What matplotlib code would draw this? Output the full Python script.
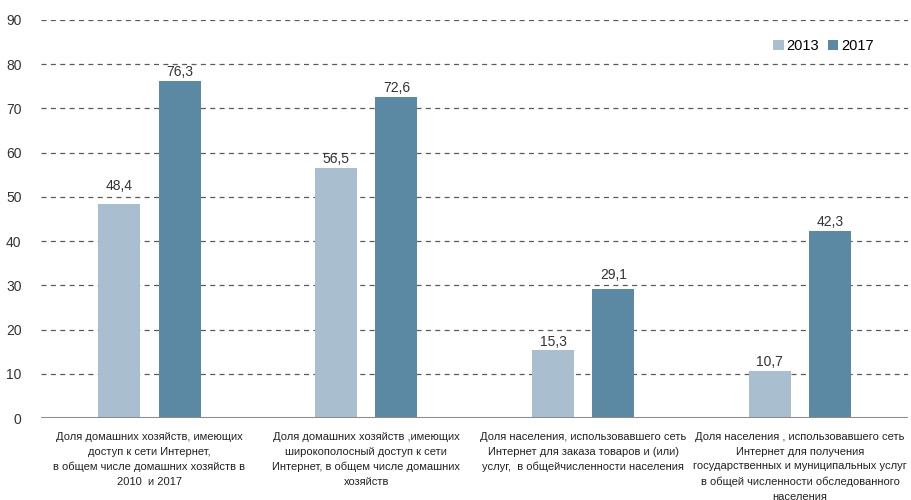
import matplotlib.pyplot as plt
import numpy as np

plt.rcParams['font.family'] = ['Liberation Sans', 'DejaVu Sans']

categories = [
    "Доля домашних хозяйств, имеющих\nдоступ к сети Интернет,\nв общем числе домашних хозяйств в\n2010  и 2017",
    "Доля домашних хозяйств ,имеющих\nширокополосный доступ к сети\nИнтернет, в общем числе домашних\nхозяйств",
    "Доля населения, использовавшего сеть\nИнтернет для заказа товаров и (или)\nуслуг,  в общейчисленности населения",
    "Доля населения , использовавшего сеть\nИнтернет для получения\nгосударственных и муниципальных услуг\nв общей численности обследованного\nнаселения",
]
years = ["2013", "2017"]
values_2013 = [48.4, 56.5, 15.3, 10.7]
values_2017 = [76.3, 72.6, 29.1, 42.3]
colors = ["#A9BFD0", "#5B88A2"]

fig = plt.figure(figsize=(9.12, 5.0), dpi=100)
ax = fig.add_axes([0.045, 0.164, 0.951, 0.796])

x = np.arange(len(categories))
w = 0.194
off = 0.139
b1 = ax.bar(x - off, values_2013, w, color=colors[0], label=years[0], zorder=3)
b2 = ax.bar(x + off, values_2017, w, color=colors[1], label=years[1], zorder=3)

# value labels; lift a label above a gridline it would cross
for bars, vals in ((b1, values_2013), (b2, values_2017)):
    for b, v in zip(bars, vals):
        y = v + 0.4
        grid = np.ceil(v / 10) * 10
        if grid - y < 3.0:
            y = grid + 0.8
        ax.text(b.get_x() + b.get_width() / 2, y, f"{v:.1f}".replace(".", ","),
                ha="center", va="bottom", fontsize=10, color="#333333", zorder=5)

ax.set_xlim(-0.5, 3.5)
ax.set_ylim(0, 90)
ax.set_yticks(range(0, 91, 10))
ax.set_yticklabels([str(v) for v in range(0, 91, 10)], fontsize=10, color="#333333")
ax.tick_params(axis="y", length=0, pad=14)
ax.set_xticks([])
for spine in ax.spines.values():
    spine.set_visible(False)

for v in range(10, 91, 10):
    ax.axhline(v, color="#5a5a5a", lw=0.9, ls=(0, (4, 3.5)), zorder=1)
ax.axhline(0, color="#8c8c8c", lw=1.5, zorder=4)

for i, lab in enumerate(categories):
    ax.text(i, -3.1, lab, ha="center", va="top", fontsize=8, color="#222222",
            linespacing=1.6, clip_on=False)

ax.legend(loc="upper right", bbox_to_anchor=(0.975, 0.985), frameon=False, ncol=2,
          handlelength=0.7, handleheight=0.7, handletextpad=0.2,
          columnspacing=0.6, prop={'size': 10.5})

fig.savefig("out.png", dpi=100)
